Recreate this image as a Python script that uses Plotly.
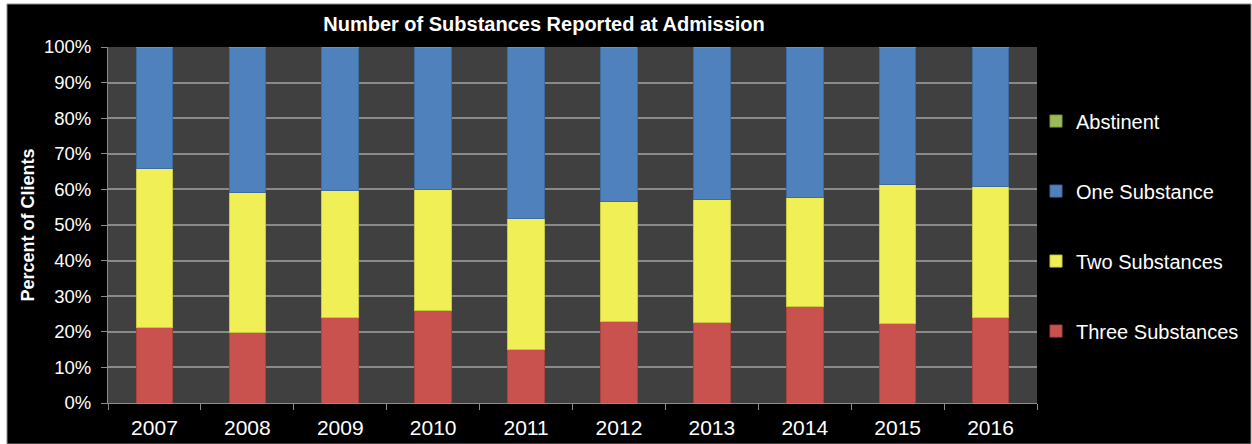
import plotly.graph_objects as go

years = ["2007", "2008", "2009", "2010", "2011", "2012", "2013", "2014", "2015", "2016"]
three_substances = [21.1, 19.9, 24.1, 26.0, 15.1, 23.0, 22.7, 27.0, 22.3, 24.1]
two_substances = [44.7, 39.3, 35.6, 34.0, 36.7, 33.7, 34.5, 30.8, 39.1, 36.8]
one_substance = [34.2, 40.8, 40.3, 40.0, 48.2, 43.3, 42.8, 42.2, 38.6, 39.1]
abstinent = [0, 0, 0, 0, 0, 0, 0, 0, 0, 0]
y_ticks = [0, 10, 20, 30, 40, 50, 60, 70, 80, 90, 100]
y_tick_labels = [f"{v}%" for v in y_ticks]

series = [
    ("Three Substances", three_substances, "#C9514E", "#A94340", 4),
    ("Two Substances", two_substances, "#F0EF55", "#C8C744", 3),
    ("One Substance", one_substance, "#4F81BD", "#3F6B9E", 2),
    ("Abstinent", abstinent, "#9BBB59", "#7E9B46", 1),
]

fig = go.Figure()
for name, vals, col, lcol, rank in series:
    fig.add_trace(go.Bar(
        x=years, y=vals, name=name, legendgroup=name, legendrank=rank,
        marker=dict(color=col, line=dict(color=lcol, width=1)),
    ))

W, H = 1252, 444
L, R, T, B = 108, 215, 47, 41
pw, ph = W - L - R, H - T - B

def px_x(p):
    return (p - L) / pw

def px_y(p):
    return (H - B - p) / ph

fig.update_layout(
    width=W, height=H,
    margin=dict(l=L, r=R, t=T, b=B, autoexpand=False),
    paper_bgcolor="white",
    plot_bgcolor="#404040",
    barmode="stack",
    bargap=0.606,
    font=dict(family="Liberation Sans, Arial, sans-serif", color="white"),
    title=dict(
        text="<b>Number of Substances Reported at Admission</b>",
        x=544 / W, xref="container", xanchor="center",
        y=1 - 24 / H, yref="container", yanchor="middle",
        font=dict(size=20, color="white"),
    ),
    legend=dict(
        xref="container", x=1036 / W, xanchor="left",
        y=0.497, yanchor="middle",
        traceorder="grouped", tracegroupgap=41,
        font=dict(size=20, color="white"),
        bgcolor="rgba(0,0,0,0)",
    ),
    xaxis=dict(
        showgrid=False, showline=True, linecolor="#8C8C8C", linewidth=1,
        ticks="outside", tickson="boundaries", ticklen=6, tickcolor="#8C8C8C",
        tickfont=dict(size=21, color="white"), ticklabelstandoff=6,
    ),
    yaxis=dict(
        range=[0, 100], tickvals=y_ticks, ticktext=y_tick_labels,
        showgrid=True, gridcolor="#8A8A8A", gridwidth=1.5,
        showline=True, linecolor="#8C8C8C", linewidth=1,
        ticks="outside", ticklen=6, tickcolor="#8C8C8C",
        tickfont=dict(size=18.5, color="white"), ticklabelstandoff=6,
        title=dict(text="<b>Percent of Clients</b>", font=dict(size=18, color="white"), standoff=4),
        zeroline=False,
    ),
    shapes=[
        dict(type="rect", xref="paper", yref="paper",
             x0=px_x(7), x1=px_x(1251), y0=px_y(444), y1=px_y(4),
             fillcolor="black", line=dict(color="#8C8C8C", width=1), layer="below"),
        dict(type="rect", xref="paper", yref="paper",
             x0=0, x1=1, y0=0, y1=1,
             fillcolor="#404040", line=dict(width=0), layer="below"),
    ],
)

fig.write_html("out.html")
